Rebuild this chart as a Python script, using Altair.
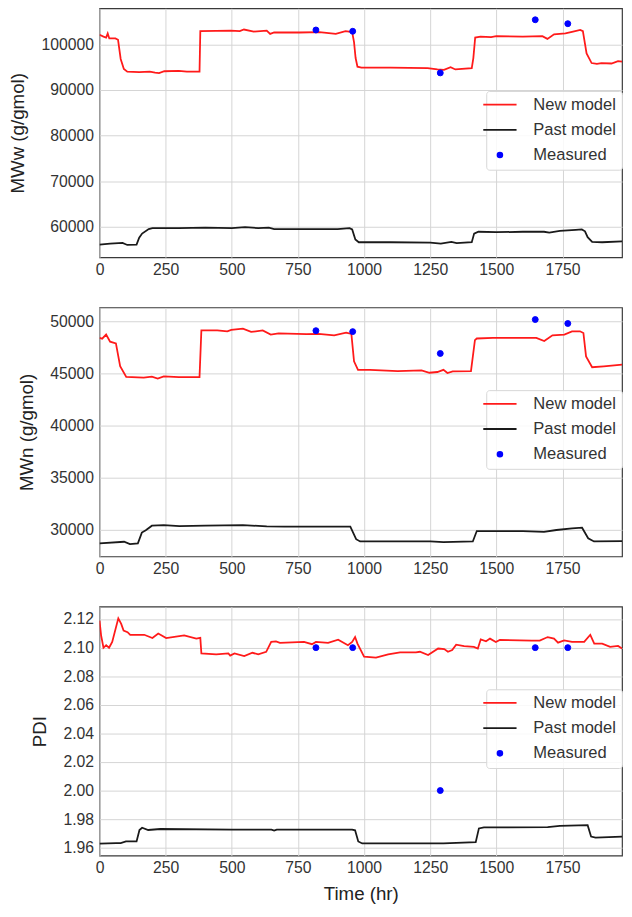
import altair as alt
import pandas as pd

# ---------------- data ----------------
SERIES = ["New model", "Past model", "Measured"]
COLORS = ["#ff1a1a", "#1a1a1a", "#0000ff"]
TIME_TICKS = [0, 250, 500, 750, 1000, 1250, 1500, 1750]
X_DOMAIN = [0, 1975]

measured_t = [818, 957, 1288, 1647, 1770]

# MWw panel
mww_new_t = [0, 15, 25, 31, 37, 60, 70, 80, 92, 105, 150, 190, 210, 225, 245, 300, 330, 378,
             381, 440, 496, 530, 546, 583, 632, 645, 660, 756, 831, 893, 930, 955, 962, 968,
             975, 990, 1100, 1240, 1277, 1302, 1327, 1345, 1407, 1413, 1420, 1440, 1480, 1500,
             1600, 1674, 1693, 1718, 1761, 1790, 1817, 1827, 1841, 1860, 1880, 1897, 1935,
             1960, 1975]
mww_new_v = [102100, 101700, 101500, 102400, 101300, 101300, 101000, 96800, 94600, 94000,
             93900, 94000, 93800, 93700, 94100, 94200, 94000, 94000, 102900, 102950, 103000,
             102900, 103250, 102800, 103000, 102300, 102600, 102600, 102700, 102300, 102900,
             102700, 100500, 97000, 95100, 94900, 94900, 94800, 94500, 94400, 95000, 94500,
             94800, 97000, 101500, 101700, 101600, 101800, 101700, 101800, 101200, 102200,
             102400, 102800, 103150, 102900, 98000, 95900, 95700, 95900, 95800, 96300, 96200]
mww_past_t = [0, 40, 87, 105, 140, 150, 161, 186, 200, 300, 400, 500, 550, 600, 640, 660,
              760, 830, 900, 945, 955, 967, 980, 1100, 1250, 1290, 1330, 1350, 1407, 1416,
              1432, 1500, 1600, 1680, 1700, 1740, 1800, 1823, 1835, 1845, 1862, 1900, 1975]
mww_past_v = [56100, 56300, 56450, 56000, 56100, 57600, 58500, 59500, 59700, 59700, 59800,
              59700, 59900, 59700, 59800, 59500, 59500, 59500, 59500, 59700, 59400, 57200,
              56600, 56600, 56500, 56300, 56700, 56400, 56600, 58500, 58900, 58800, 58900,
              58900, 58700, 59100, 59300, 59400, 59000, 57700, 56700, 56600, 56800]
mww_meas_v = [103150, 102870, 93740, 105390, 104530]

# MWn panel
mwn_new_t = [0, 10, 25, 40, 62, 78, 101, 167, 198, 220, 243, 300, 378, 385, 445, 483, 498,
             542, 573, 617, 647, 677, 782, 828, 887, 932, 952, 962, 977, 1022, 1127, 1217,
             1247, 1277, 1300, 1315, 1335, 1404, 1419, 1426, 1487, 1651, 1681, 1712, 1757,
             1786, 1816, 1829, 1839, 1862, 1906, 1975]
mwn_new_v = [48430, 48350, 48750, 48060, 47900, 45700, 44670, 44610, 44700, 44510, 44730,
             44650, 44670, 49150, 49150, 49060, 49200, 49310, 49000, 49150, 48750, 48870,
             48780, 48820, 48680, 48930, 48800, 46180, 45360, 45360, 45240, 45300, 45080,
             45150, 45360, 45050, 45200, 45240, 48210, 48370, 48430, 48430, 48120, 48680,
             48750, 49060, 49060, 48900, 46650, 45610, 45700, 45860]
mwn_past_t = [0, 93, 115, 145, 160, 175, 198, 243, 302, 400, 542, 632, 700, 850, 948, 970,
              985, 1250, 1300, 1411, 1426, 1600, 1680, 1727, 1786, 1824, 1847, 1869, 1975]
mwn_past_v = [28680, 28840, 28620, 28680, 29720, 29940, 30380, 30440, 30350, 30400, 30440,
              30320, 30300, 30300, 30300, 29090, 28870, 28870, 28800, 28870, 29870, 29870,
              29800, 29970, 30130, 30190, 29180, 28870, 28900]
mwn_meas_v = [49120, 49030, 46930, 50190, 49810]

# PDI panel
pdi_new_t = [0, 6, 15, 25, 36, 48, 71, 82, 91, 106, 116, 169, 200, 222, 252, 320, 366, 381,
             385, 441, 487, 494, 510, 547, 578, 600, 630, 649, 667, 682, 773, 803, 818, 864,
             902, 939, 955, 966, 975, 1000, 1045, 1091, 1136, 1196, 1211, 1242, 1280, 1303,
             1317, 1333, 1348, 1378, 1415, 1430, 1441, 1461, 1476, 1498, 1513, 1634, 1664,
             1694, 1718, 1733, 1756, 1786, 1832, 1855, 1870, 1900, 1930, 1960, 1975]
pdi_new_v = [2.1189, 2.1086, 2.0999, 2.1017, 2.0999, 2.1040, 2.1205, 2.1166, 2.1120, 2.1108,
             2.1090, 2.1090, 2.1067, 2.1099, 2.1067, 2.1086, 2.1063, 2.1068, 2.0960, 2.0953,
             2.0960, 2.0944, 2.0960, 2.0941, 2.0964, 2.0953, 2.0971, 2.1040, 2.1044, 2.1033,
             2.1040, 2.1024, 2.1040, 2.1033, 2.1056, 2.1017, 2.1040, 2.1074, 2.1028, 2.0937,
             2.0930, 2.0953, 2.0967, 2.0967, 2.0971, 2.0948, 2.0994, 2.0990, 2.0971, 2.0983,
             2.1021, 2.1010, 2.1005, 2.0994, 2.1058, 2.1044, 2.1063, 2.1040, 2.1054, 2.1049,
             2.1049, 2.1074, 2.1063, 2.1035, 2.1051, 2.1040, 2.1040, 2.1090, 2.1028, 2.1028,
             2.1005, 2.1012, 2.0994]
pdi_past_t = [0, 63, 80, 100, 140, 151, 161, 184, 230, 500, 650, 660, 670, 955, 966, 978, 993,
              1200, 1300, 1422, 1434, 1453, 1694, 1740, 1845, 1858, 1875, 1975]
pdi_past_v = [1.9628, 1.9632, 1.9632, 1.9644, 1.9644, 1.9724, 1.9740, 1.9724, 1.9731, 1.9727,
              1.9727, 1.9720, 1.9727, 1.9727, 1.9722, 1.9644, 1.9630, 1.9630, 1.9630, 1.9639,
              1.9735, 1.9742, 1.9744, 1.9753, 1.9758, 1.9678, 1.9671, 1.9678]
pdi_meas_v = [2.10, 2.10, 2.00, 2.10, 2.10]

MWW_TICKS = [60000, 70000, 80000, 90000, 100000]
MWN_TICKS = [30000, 35000, 40000, 45000, 50000]
PDI_TICKS = [1.96, 1.98, 2.00, 2.02, 2.04, 2.06, 2.08, 2.10, 2.12]

FONT = "Liberation Sans"
W, H = 531, 253
LINE_SYMBOL = "M-6.9,0L6.9,0"   # legend line glyph (unit symbol space)


def panel(new_t, new_v, past_t, past_v, meas_v, ytitle, ydomain, yticks, yfmt, xtitle):
    lines = pd.DataFrame({
        "t": new_t + past_t,
        "v": new_v + past_v,
        "series": ["New model"] * len(new_t) + ["Past model"] * len(past_t),
    })
    pts = pd.DataFrame({"t": measured_t, "v": meas_v, "series": ["Measured"] * len(meas_v)})

    legend = alt.Legend(
        title=None, orient="none", legendX=393, legendY=84,
        labelFont=FONT, labelFontSize=16.8, labelColor="#333333",
        fillColor="rgba(255,255,255,0.85)", strokeColor="#d6d6d6",
        cornerRadius=3, padding=5.5, rowPadding=7.6, labelOffset=25.5,
        symbolSize=24, symbolStrokeWidth=1.8,
    )
    x = alt.X("t:Q", scale=alt.Scale(domain=X_DOMAIN, nice=False, zero=False),
              axis=alt.Axis(values=TIME_TICKS, format="d", labelPadding=4, labelFlush=False,
                            titlePadding=10, title=xtitle if xtitle else None))
    y = alt.Y("v:Q", scale=alt.Scale(domain=ydomain, nice=False, zero=False),
              axis=alt.Axis(values=yticks, format=yfmt, title=ytitle,
                            labelPadding=6, titlePadding=14))
    color = alt.Color("series:N", scale=alt.Scale(domain=SERIES, range=COLORS), legend=legend)
    shape = alt.Shape("series:N",
                      scale=alt.Scale(domain=SERIES, range=[LINE_SYMBOL, LINE_SYMBOL, "circle"]),
                      legend=legend)
    stroke = alt.Stroke("series:N", scale=alt.Scale(domain=SERIES, range=COLORS), legend=legend)

    line = alt.Chart(lines).mark_line(strokeWidth=1.8, clip=True).encode(x=x, y=y, color=color)
    point = alt.Chart(pts).mark_point(filled=True, opacity=1, strokeWidth=1, size=36).encode(
        x=x, y=y, color=color, shape=shape, stroke=stroke)
    return alt.layer(line, point).properties(width=W, height=H)


p1 = panel(mww_new_t, mww_new_v, mww_past_t, mww_past_v, mww_meas_v,
           "MWw (g/gmol)", [53300, 107900], MWW_TICKS, "d", None)
p2 = panel(mwn_new_t, mwn_new_v, mwn_past_t, mwn_past_v, mwn_meas_v,
           "MWn (g/gmol)", [27430, 51350], MWN_TICKS, "d", None)
p3 = panel(pdi_new_t, pdi_new_v, pdi_past_t, pdi_past_v, pdi_meas_v,
           "PDI", [1.9545, 2.1287], PDI_TICKS, ".2f", "Time (hr)")

chart = alt.vconcat(p1, p2, p3, spacing=51, bounds="flush").resolve_scale(
    y="independent", color="independent", shape="independent", stroke="independent"
).resolve_legend(
    color="independent", shape="independent", stroke="independent"
).properties(
    padding={"top": -8, "left": 0, "right": 0, "bottom": 0}
).configure(
    font=FONT, background="white"
).configure_view(
    stroke="#3a3a3a", strokeWidth=1.2
).configure_axis(
    labelFont=FONT, titleFont=FONT, labelFontSize=16, titleFontSize=19,
    titleFontWeight="normal", labelColor="#333333", titleColor="#222222",
    ticks=False, tickSize=0, domain=False, grid=True, gridColor="#d4d4d4", gridWidth=1
)

chart.save("out.html", embed_options={"renderer": "svg", "actions": False})
